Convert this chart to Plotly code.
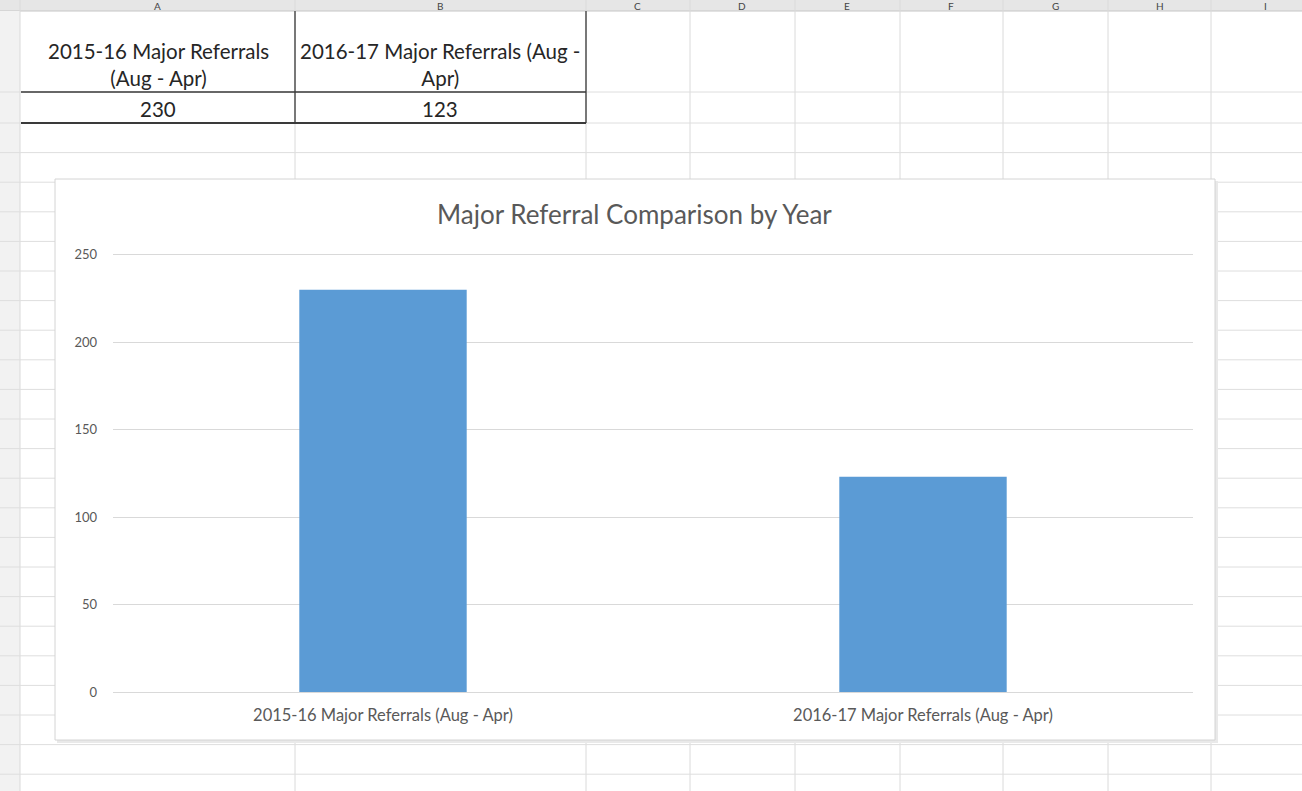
import plotly.graph_objects as go

# ---- data ----
categories = ["2015-16 Major Referrals (Aug - Apr)", "2016-17 Major Referrals (Aug - Apr)"]
values = [230, 123]
table_headers = ["2015-16 Major Referrals<br>(Aug - Apr)", "2016-17 Major Referrals (Aug -<br>Apr)"]
y_ticks = [0, 50, 100, 150, 200, 250]
y_max = 251
column_letters = ["A", "B", "C", "D", "E", "F", "G", "H", "I"]
title_text = "Major Referral Comparison by Year"

# ---- geometry (pixel layout of the screenshot) ----
W, H = 1302, 791
PL, PR, PT, PB = 113, 1193, 253, 692  # plot area in pixels


def xs(px):
    return (px - PL) / (PR - PL)


def ys(py):
    return (PB - py) / (PB - PT)


FONT = "Lato, Carlito, Calibri, sans-serif"
TXT = "#595959"
shapes = []
annotations = []

HDR = 11
# spreadsheet: column header bar
shapes.append(dict(type="rect", xref="paper", yref="paper", x0=xs(0), x1=xs(W), y0=ys(0), y1=ys(HDR),
                   fillcolor="#e6e6e6", line=dict(width=0), layer="below"))
shapes.append(dict(type="line", xref="paper", yref="paper", x0=xs(0), x1=xs(W), y0=ys(HDR), y1=ys(HDR),
                   line=dict(color="#c6c6c6", width=1), layer="below"))
# row header column
shapes.append(dict(type="rect", xref="paper", yref="paper", x0=xs(0), x1=xs(20), y0=ys(HDR), y1=ys(H),
                   fillcolor="#f2f2f2", line=dict(width=0), layer="below"))

col_bounds = [20, 295, 586, 690, 795, 900, 1003, 1108, 1211]
col_centers = [157, 440, 637, 742, 847, 951, 1055, 1160, 1265]
for cb in col_bounds:
    shapes.append(dict(type="line", xref="paper", yref="paper", x0=xs(cb), x1=xs(cb), y0=ys(0), y1=ys(H),
                       line=dict(color="#dadada", width=1), layer="below"))
row_bounds = [92] + [123 + 29.6 * i for i in range(23)]
for rb in row_bounds:
    shapes.append(dict(type="line", xref="paper", yref="paper", x0=xs(0), x1=xs(W), y0=ys(rb), y1=ys(rb),
                       line=dict(color="#dedede", width=1), layer="below"))

for letter, cx in zip(column_letters, col_centers):
    annotations.append(dict(xref="paper", yref="paper", x=xs(cx), y=ys(HDR / 2), text=letter, showarrow=False,
                            xanchor="center", yanchor="middle", font=dict(family=FONT, size=10, color="#444444")))

# data table borders
for (x0, y0, x1, y1, w) in [(21, 92, 586, 92, 1.3), (21, 123, 586, 123, 2),
                            (295, HDR, 295, 123, 1.3), (586, HDR, 586, 123, 1.3)]:
    shapes.append(dict(type="line", xref="paper", yref="paper", x0=xs(x0), x1=xs(x1), y0=ys(y0), y1=ys(y1),
                       line=dict(color="#3a3a3a", width=w), layer="below"))

cell_centers = [158, 440]
for hdr, v, cx in zip(table_headers, values, cell_centers):
    annotations.append(dict(xref="paper", yref="paper", x=xs(cx), y=ys(64), text=hdr, showarrow=False,
                            xanchor="center", yanchor="middle", align="center",
                            font=dict(family=FONT, size=20.5, color="#262626")))
    annotations.append(dict(xref="paper", yref="paper", x=xs(cx), y=ys(109), text=str(v), showarrow=False,
                            xanchor="center", yanchor="middle", font=dict(family=FONT, size=20.5, color="#262626")))

# chart box with subtle shadow
shapes.append(dict(type="rect", xref="paper", yref="paper", x0=xs(57), x1=xs(1218), y0=ys(181), y1=ys(743),
                   fillcolor="#e9e9e9", line=dict(width=0), layer="below"))
shapes.append(dict(type="rect", xref="paper", yref="paper", x0=xs(55), x1=xs(1215), y0=ys(179), y1=ys(740),
                   fillcolor="#ffffff", line=dict(color="#d4d4d4", width=1), layer="below"))

annotations.append(dict(xref="paper", yref="paper", x=xs(634), y=ys(214), text=title_text, showarrow=False,
                        xanchor="center", yanchor="middle", font=dict(family=FONT, size=26, color=TXT)))

fig = go.Figure(go.Bar(x=categories, y=values, marker=dict(color="#5b9bd5", line=dict(width=0)),
                       hoverinfo="x+y"))

fig.update_layout(
    width=W, height=H,
    margin=dict(l=PL, r=W - PR, t=PT, b=H - PB, pad=0),
    paper_bgcolor="#ffffff", plot_bgcolor="rgba(0,0,0,0)",
    bargap=0.69, showlegend=False,
    shapes=shapes, annotations=annotations,
    font=dict(family=FONT, color=TXT),
    xaxis=dict(showgrid=False, showline=False, zeroline=False, ticks="",
               tickfont=dict(family=FONT, size=16.5, color=TXT), ticklabelstandoff=11),
    yaxis=dict(range=[0, y_max], tickvals=y_ticks, showgrid=True, gridcolor="#d9d9d9", gridwidth=1,
               zeroline=True, zerolinecolor="#d9d9d9", zerolinewidth=1, showline=False, ticks="",
               tickfont=dict(family=FONT, size=13, color=TXT), ticklabelstandoff=15),
)

fig.write_html("out.html")
